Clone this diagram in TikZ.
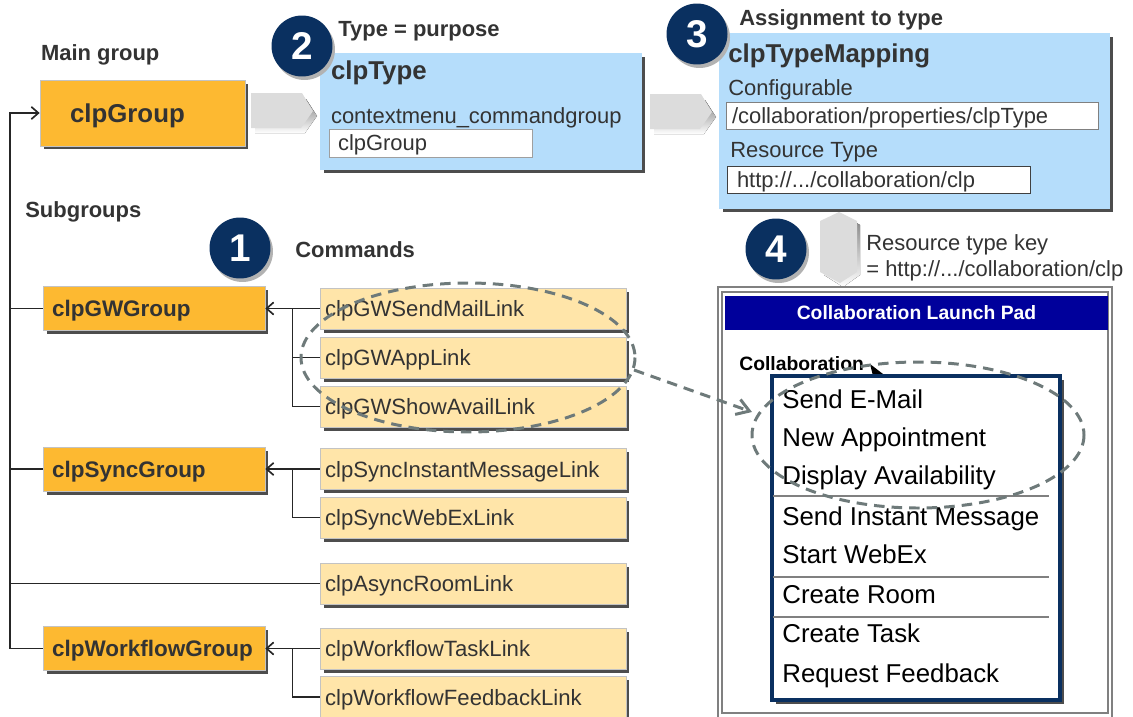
\documentclass[tikz,border=0pt]{standalone}
\usepackage{fontspec}
\setmainfont{Liberation Sans}
\usetikzlibrary{shadows,arrows.meta,shapes.geometric}
\definecolor{orangebox}{RGB}{253,185,49}
\definecolor{bluebox}{RGB}{181,221,251}
\definecolor{cmdfill}{RGB}{255,229,169}
\definecolor{navy}{RGB}{10,48,96}
\definecolor{hdrblue}{RGB}{0,0,155}
\definecolor{txt}{RGB}{51,51,51}
\definecolor{shade}{RGB}{77,77,77}
\definecolor{chev}{RGB}{220,220,220}
\definecolor{dashgray}{RGB}{110,122,122}
\definecolor{lineg}{RGB}{195,195,195}
\tikzset{
  sh/.style={drop shadow={shadow xshift=0.07cm, shadow yshift=-0.07cm, fill=shade, opacity=1}},
  lbl/.style={anchor=base west, inner sep=0, font=\fontsize{12.5}{15}\selectfont\bfseries, text=txt},
  big/.style={anchor=base west, inner sep=0, font=\fontsize{14.7}{17}\selectfont\bfseries, text=txt},
  norm/.style={anchor=base west, inner sep=0, font=\fontsize{12.5}{15}\selectfont, text=txt},
  menuitem/.style={anchor=base west, inner sep=0, font=\fontsize{14.7}{17}\selectfont, text=black},
  grpbig/.style={draw=lineg, fill=orangebox, sh, minimum width=4.1cm, minimum height=1.32cm,
     text width=2.9cm, inner xsep=0.6cm, align=left, text depth=0pt,
     font=\fontsize{14.7}{17}\selectfont\bfseries, text=txt},
  grp/.style={draw=lineg, fill=orangebox, sh, minimum width=4.44cm, minimum height=0.88cm,
     text width=4.08cm, inner xsep=0.18cm, align=left, text depth=0pt,
     font=\fontsize{12.8}{15}\selectfont\bfseries, text=txt},
  cmd/.style={draw=lineg, fill=cmdfill, sh, minimum width=6.12cm, minimum height=0.82cm,
     text width=5.92cm, inner xsep=0.1cm, align=left, text depth=0pt,
     font=\fontsize{12.6}{15}\selectfont, text=txt},
  bluepanel/.style={fill=bluebox, sh, inner sep=0},
  whitefield/.style={draw=gray!75, fill=white, align=left, text depth=0pt,
     font=\fontsize{12.5}{15}\selectfont, text=txt, inner ysep=0},
  num/.style={circle, fill=navy, text=white, minimum size=1.22cm, inner sep=0,
     font=\fontsize{22}{24}\selectfont\bfseries,
     drop shadow={shadow xshift=0.05cm, shadow yshift=-0.07cm, fill=black!30, opacity=1}},
  tree/.style={draw=black!85, line width=0.95pt},
  barb/.style={-{Straight Barb[length=4pt,width=7pt]}},
  dashE/.style={draw=dashgray, line width=1.7pt, dash pattern=on 6pt off 4pt},
}
\begin{document}
\begin{tikzpicture}[x=0.02cm,y=-0.02cm]
\useasboundingbox (0,0) rectangle (1133,717);
\clip (0,0) rectangle (1133,717);

% ---------- top row ----------
\node[lbl] (tMain) at (40.7,60) {Main group};
\node[grpbig] (main) at (142.5,113) {clpGroup};

% chevron 1
\fill[shade] (255,99) -- (306,99) -- (317,116) -- (305,133) -- (255,133) -- cycle;
\fill[chev] (251,93) -- (302,93) -- (313,111) -- (301,128) -- (251,128) -- cycle;

\node[bluepanel, minimum width=6.44cm, minimum height=2.34cm] (ctype) at (481,111.5) {};
\node[big] (tType) at (330.7,79) {clpType};
\node[norm] (tCtx) at (330.7,123) {contextmenu\_commandgroup};
\node[whitefield, minimum width=4.06cm, minimum height=0.56cm, text width=3.7cm, inner xsep=0.18cm] (wb0) at (430.5,143) {clpGroup};
\node[lbl] (tTP) at (338,36) {Type = purpose};

% chevron 2
\fill[shade] (654,100) -- (705,100) -- (716,117) -- (704,134) -- (654,134) -- cycle;
\fill[chev] (650,94) -- (701,94) -- (712,112) -- (700,129) -- (650,129) -- cycle;

\node[bluepanel, minimum width=7.82cm, minimum height=3.52cm] (cmap) at (914.5,121) {};
\node[big] (tMap) at (728,62) {clpTypeMapping};
\node[norm] (tConf) at (728,95) {Configurable};
\node[whitefield, draw=gray, minimum width=7.44cm, minimum height=0.54cm, text width=7.2cm, inner xsep=0.12cm] (wb1) at (912,115.5) {/collaboration/properties/clpType};
\node[norm] (tRT) at (730,157) {Resource Type};
\node[whitefield, draw=black!75, minimum width=6.06cm, minimum height=0.54cm, text width=5.66cm, inner xsep=0.2cm] (wb2) at (878.5,179.5) {http://.../collaboration/clp};
\node[lbl] (tAT) at (739,25) {Assignment to type};

% vertical chevron
\fill[shade] (843,215) -- (860,225) -- (860,275) -- (843,287) -- (824,275) -- (824,225) -- cycle;
\fill[chev] (839,212) -- (857,221) -- (857,272) -- (840,283) -- (820,272) -- (820,221) -- cycle;
\node[norm] (tKey1) at (866,250) {Resource type key};
\node[norm] (tKey2) at (866,276) {= http://.../collaboration/clp};

% ---------- left tree ----------
\node[lbl] (tSub) at (25,217) {Subgroups};
\node[lbl] (tCmd) at (295,257) {Commands};

\node[grp] (gw) at (154,308.5) {clpGWGroup};
\node[grp] (sync) at (154,469) {clpSyncGroup};
\node[grp] (wf) at (154,648.5) {clpWorkflowGroup};

\node[cmd] (c1) at (473,308.5) {clpGWSendMailLink};
\node[cmd] (c2) at (473,357.5) {clpGWAppLink};
\node[cmd] (c3) at (473,406.5) {clpGWShowAvailLink};
\node[cmd] (c4) at (473,469) {clpSyncInstantMessageLink};
\node[cmd] (c5) at (473,517.5) {clpSyncWebExLink};
\node[cmd] (c6) at (473,583.5) {clpAsyncRoomLink};
\node[cmd] (c7) at (473,648.5) {clpWorkflowTaskLink};
\node[cmd] (c8) at (473,697) {clpWorkflowFeedbackLink};

\coordinate (tTop) at (10,113);
\coordinate (tBot) at (10,648.5);
\coordinate (bus) at (292.5,0);
\draw[tree,barb] (tBot) -- (tTop) -- (main.west);
\draw[tree] (gw.west -| tBot) -- (gw.west);
\draw[tree] (sync.west -| tBot) -- (sync.west);
\draw[tree] (c6.west -| tBot) -- (c6.west);
\draw[tree] (wf.west -| tBot) -- (wf.west);

\draw[tree,barb] (c1.west) -- (gw.east);
\draw[tree] (c1.west -| bus) |- (c2.west);
\draw[tree] (c1.west -| bus) |- (c3.west);
\draw[tree,barb] (c4.west) -- (sync.east);
\draw[tree] (c4.west -| bus) |- (c5.west);
\draw[tree,barb] (c7.west) -- (wf.east);
\draw[tree] (c7.west -| bus) |- (c8.west);

% ---------- launch pad ----------
\draw[gray, line width=0.8pt] (718,287) rectangle (1112,740);
\draw[gray, line width=0.8pt] (722,292) rectangle (1108,713);
\node[fill=hdrblue, minimum width=7.66cm, minimum height=0.68cm, inner sep=0, text=white,
      font=\fontsize{11}{13}\selectfont\bfseries] (hdr) at (916.5,313) {Collaboration Launch Pad};
\node[anchor=base west, inner sep=0, font=\fontsize{11}{13}\selectfont\bfseries, text=black] (collab) at (739,370) {Collaboration};
\fill[black] (870,364) -- (883,374) -- (873,376) -- cycle;

\node[draw=navy, line width=2.3pt, fill=white, minimum width=5.76cm, minimum height=6.48cm, inner sep=0,
      drop shadow={shadow xshift=0.08cm, shadow yshift=-0.08cm, fill=shade, opacity=1}] (menu) at (916,538) {};
\draw[gray, line width=1pt] (773,496) -- (1049,496);
\draw[gray, line width=1pt] (773,577) -- (1049,577);
\draw[gray, line width=1pt] (773,617) -- (1049,617);
\node[menuitem] (m1) at (782,408) {Send E-Mail};
\node[menuitem] (m2) at (782,446) {New Appointment};
\node[menuitem] (m3) at (782,484) {Display Availability};
\node[menuitem] (m4) at (782,525) {Send Instant Message};
\node[menuitem] (m5) at (782,563) {Start WebEx};
\node[menuitem] (m6) at (782,603) {Create Room};
\node[menuitem] (m7) at (782,642) {Create Task};
\node[menuitem] (m8) at (782,682) {Request Feedback};

% ---------- numbered circles ----------
\node[num] (n1) at (240,248) {1};
\node[num] (n2) at (302,46) {2};
\node[num] (n3) at (697,34) {3};
\node[num] (n4) at (776,249) {4};

% ---------- dashed highlights ----------
\draw[dashE] (468,357.5) ellipse [x radius=167, y radius=74.5];
\draw[dashE] (918,435) ellipse [x radius=166, y radius=73];
\coordinate (dA) at (634,370);
\coordinate (dB) at (752,412);
\draw[dashE, -{Straight Barb[length=7pt,width=9pt]}] (dA) -- (dB);
\end{tikzpicture}
\end{document}
